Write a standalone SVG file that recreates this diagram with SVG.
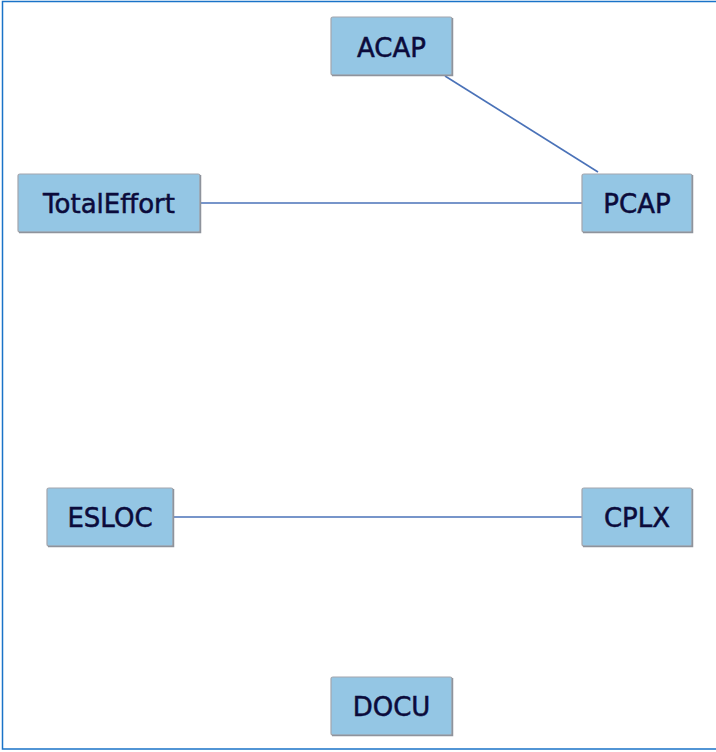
<svg xmlns="http://www.w3.org/2000/svg" width="716" height="752" viewBox="0 0 716 752">
<style>
.box{fill:#94c6e4;stroke:#a3a6ad;stroke-width:1.2}
.sh{fill:none;stroke:#8e939c;stroke-width:1.5}
.lbl{font-family:"DejaVu Sans",sans-serif;font-size:26px;fill:#0b0b3b;stroke:#0b0b3b;stroke-width:0.5;text-anchor:middle}
.edge{stroke:#4a72b8;stroke-width:1.6;fill:none}
</style>
<rect x="0" y="0" width="716" height="752" fill="#ffffff"/>
<path d="M718 1.5 H2.5 V749 H718" fill="none" stroke="#1a73c8" stroke-width="1.5"/>
<g id="connectors">
<line class="edge" x1="445" y1="76" x2="598" y2="172"/>
<line class="edge" x1="200" y1="203" x2="582" y2="203"/>
<line class="edge" x1="173" y1="517" x2="582" y2="517"/>
</g>
<g id="ACAP">
<rect class="box" x="331" y="17" width="121" height="58" rx="2"/>
<path class="sh" d="M332 75.5 H452.5 V18"/>
<text class="lbl" x="391.5" y="57">ACAP</text>
</g>
<g id="TotalEffort">
<rect class="box" x="18" y="174" width="182" height="58" rx="2"/>
<path class="sh" d="M19 232.5 H200.5 V175"/>
<text class="lbl" x="109" y="213">TotalEffort</text>
</g>
<g id="PCAP">
<rect class="box" x="582" y="174" width="110" height="58" rx="2"/>
<path class="sh" d="M583 232.5 H692.5 V175"/>
<text class="lbl" x="637" y="213">PCAP</text>
</g>
<g id="ESLOC">
<rect class="box" x="47" y="488" width="126" height="58" rx="2"/>
<path class="sh" d="M48 546.5 H173.5 V489"/>
<text class="lbl" x="110" y="527">ESLOC</text>
</g>
<g id="CPLX">
<rect class="box" x="582" y="488" width="110" height="58" rx="2"/>
<path class="sh" d="M583 546.5 H692.5 V489"/>
<text class="lbl" x="637" y="527">CPLX</text>
</g>
<g id="DOCU">
<rect class="box" x="331" y="677" width="121" height="58" rx="2"/>
<path class="sh" d="M332 735.5 H452.5 V678"/>
<text class="lbl" x="391.5" y="716">DOCU</text>
</g>
</svg>
